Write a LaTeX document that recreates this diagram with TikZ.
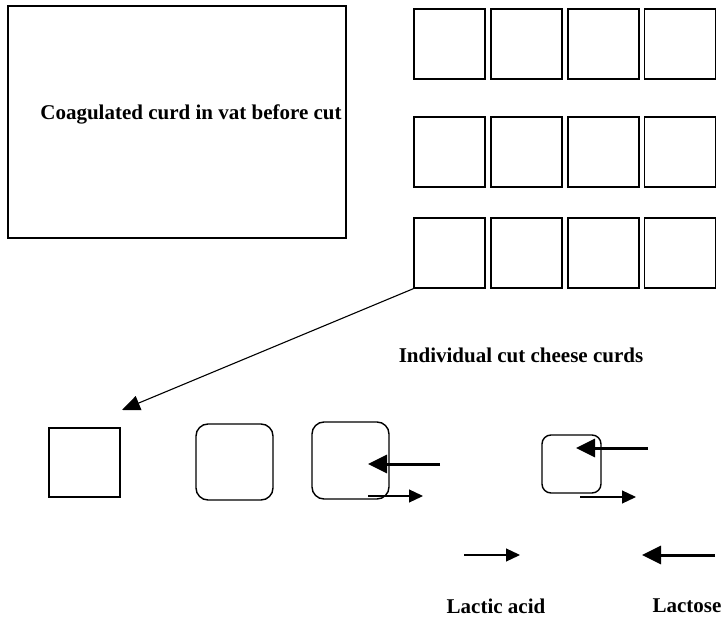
\documentclass[tikz,border=0pt]{standalone}
\usepackage{fontspec}
\setmainfont{Liberation Serif}
\usetikzlibrary{arrows.meta}
\begin{document}
\begin{tikzpicture}[x=1pt,y=-1pt,
  box/.style={draw,line width=1.4pt,inner sep=0pt},
  curd/.style={box,minimum width=71pt,minimum height=70pt},
  soft/.style={box,rounded corners=12pt},
  lbl/.style={font=\fontsize{21}{24}\selectfont\bfseries,inner sep=0pt},
  thin/.style={line width=1.2pt,-{Triangle[length=14pt,width=13pt]}},
  thick/.style={line width=3pt,-{Triangle[length=19pt,width=18pt]}}]
\useasboundingbox (0,0) rectangle (723,620);

% uncut curd in the vat
\node[box,minimum width=338pt,minimum height=232pt] (vat) at (177,122) {};
\node[lbl] (vatlbl) at (191,114) {Coagulated curd in vat before cut};

% grid of cut curds
\foreach \r/\y in {1/44,2/152,3/253}{
  \foreach \c/\x in {1/449.5,2/526.5,3/603.5,4/680}{
    \node[curd] (g\r\c) at (\x,\y) {};
  }
}
\node[lbl] (cutlbl) at (521,355) {Individual cut cheese curds};

% one curd taken from the grid
\coordinate (tip) at (122,410);
\draw[line width=1.1pt,-{Triangle[length=18pt,width=15pt]}] (g31.south west) -- (tip);

% curd during cooking
\node[box,minimum width=71pt,minimum height=69pt] (c1) at (84.5,462.5) {};
\draw[soft] (196,424) rectangle (273,500);
\node (c2) at (234.5,462) {};
\draw[soft] (312,422) rectangle (389,499);
\node (c3) at (350.5,460.5) {};
\draw[soft,rounded corners=9pt] (542,435) rectangle (601,493);
\node (c4) at (571.5,464) {};

% lactose in, lactic acid out
\coordinate (a1s) at (440,464); \coordinate (a1e) at (368,464);
\draw[thick] (a1s) -- (a1e);
\coordinate (b1s) at (368,496); \coordinate (b1e) at (423,496);
\draw[thin] (b1s) -- (b1e);
\coordinate (a2s) at (648,448); \coordinate (a2e) at (576,448);
\draw[thick] (a2s) -- (a2e);
\coordinate (b2s) at (580,497); \coordinate (b2e) at (636,497);
\draw[thin] (b2s) -- (b2e);

% key
\coordinate (k1s) at (464,555); \coordinate (k1e) at (520,555);
\draw[thin] (k1s) -- (k1e);
\coordinate (k2s) at (715,555); \coordinate (k2e) at (642,555);
\draw[thick] (k2s) -- (k2e);
\node[lbl] (lactic) at (496,606) {Lactic acid};
\node[lbl] (lactose) at (687,606) {Lactose};
\end{tikzpicture}
\end{document}
